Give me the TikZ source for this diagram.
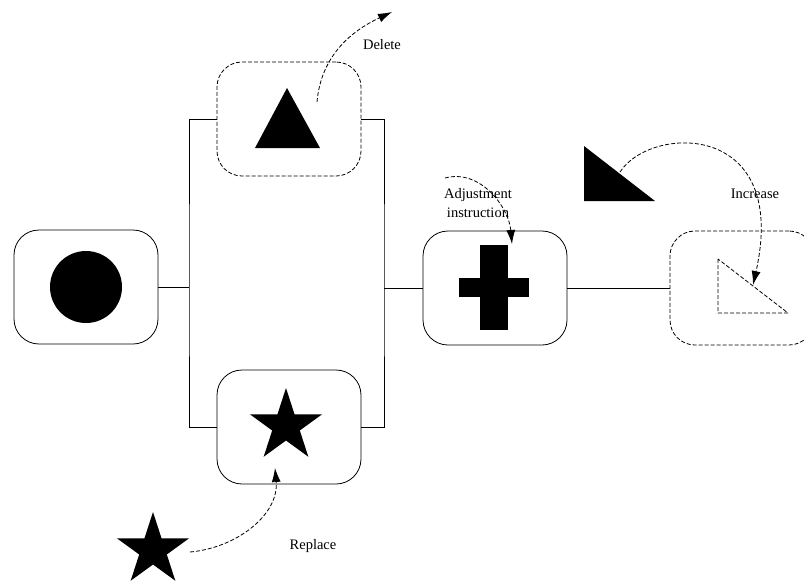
\documentclass[tikz,border=0pt]{standalone}
\usepackage{fontspec}
\setmainfont{Liberation Serif}
\usetikzlibrary{arrows.meta,shapes.geometric}
\tikzset{
  dash4/.style={dash pattern=on 4pt off 2pt},
  box/.style={draw,rounded corners=25pt,minimum width=144pt,minimum height=114pt,inner sep=0pt},
  dashbox/.style={box,dash4},
  move/.style={dash4,-{Latex[length=14pt,width=9pt]}},
  lbl/.style={inner sep=0pt,font=\fontsize{14.5}{19}\selectfont,align=center}
}

\begin{document}
\begin{tikzpicture}[x=1pt,y=-1pt,line width=0.8pt]
  \clip (0,0) rectangle (804,582);
  \node[box] (circbox) at (86,287) {};
  \node[dashbox] (tribox) at (289,119) {};
  \node[box] (starbox) at (289,427) {};
  \node[box] (plusbox) at (495,288) {};
  \node[dashbox] (incbox) at (742,288) {};
  % shapes in the boxes
  \node[circle,fill,minimum size=72pt,inner sep=0pt] (dot) at (86,287) {};
  \fill (287,88) -- (320,148) -- (255,148) -- cycle;
  \node[star,star points=5,star point ratio=2.618,fill,minimum size=76pt,inner sep=0pt] (st) at (286,426) {};
  \fill (480,245) rectangle (508,330);
  \fill (459,278) rectangle (529,297);
  \draw[dash4] (718,259) -- (718,313) -- (788,313) -- cycle;
  % free shapes
  \node[star,star points=5,star point ratio=2.618,fill,minimum size=76pt,inner sep=0pt] (newst) at (153,550) {};
  \fill (584,146) -- (584,201) -- (655,201) -- cycle;
  % bus lines
  \coordinate (busL) at (189,287);
  \coordinate (busR) at (384,287);
  \draw (circbox.east) -- (busL |- circbox.east);
  \draw (tribox.west) -| (busL) |- (starbox.west);
  \draw (tribox.east) -| (busR) |- (starbox.east);
  \draw (busR |- plusbox.west) -- (plusbox.west);
  \draw (plusbox.east) -- (incbox.west);
  % labels
  \node[lbl] (del) at (382,45) {Delete};
  \node[lbl] (adj) at (478,203) {Adjustment\\instruction};
  \node[lbl] (inc) at (755,194) {Increase};
  \node[lbl] (rep) at (313,546) {Replace};
  % operations
  \coordinate (delfrom) at (317,102);
  \coordinate (delto) at (392,12);
  \draw[move] (delfrom) to[out=85,in=205] (delto);
  \coordinate (adjfrom) at (445,178);
  \coordinate (adjto) at (512,244);
  \draw[move] (adjfrom) to[out=15,in=95] (adjto);
  \coordinate (incfrom) at (620,172);
  \coordinate (incto) at (753,285);
  \draw[move] (incfrom) .. controls (650,125) and (790,120) .. (incto);
  \coordinate (repfrom) at (190,552);
  \coordinate (repto) at (275,468);
  \draw[move] (repfrom) to[out=5,in=-85] (repto);
\end{tikzpicture}
\end{document}
